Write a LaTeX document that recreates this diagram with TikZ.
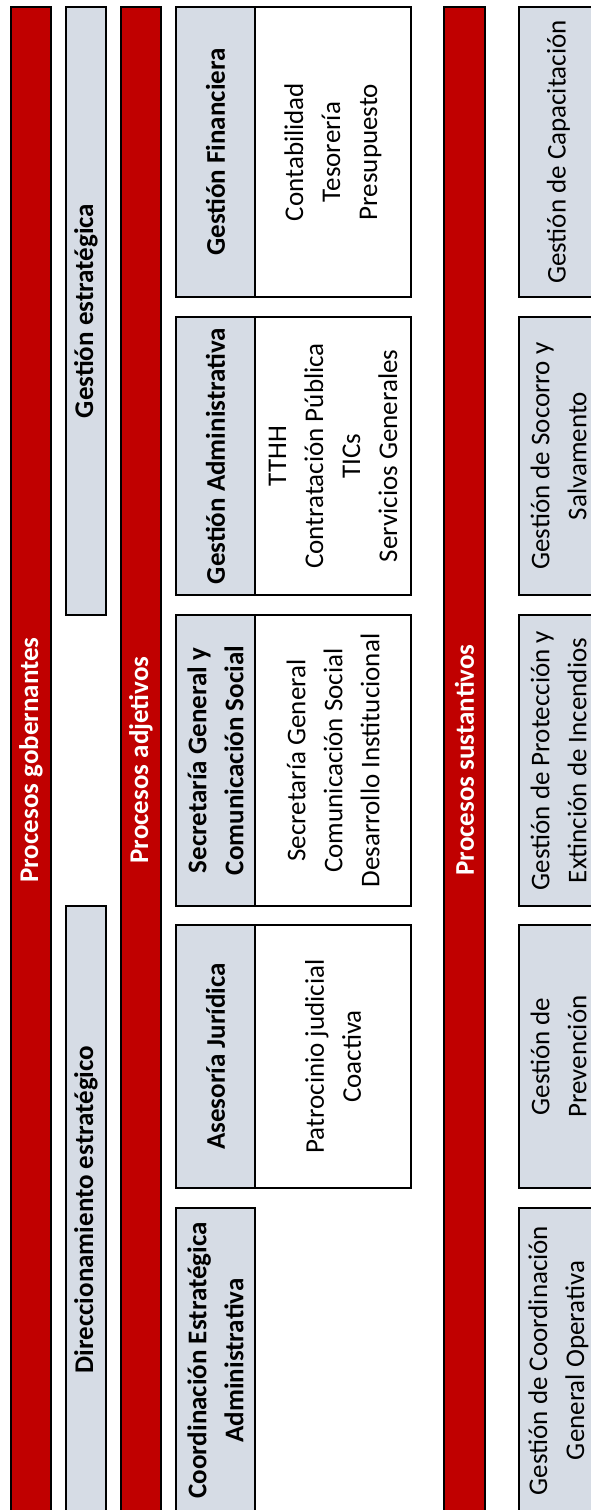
\documentclass[tikz,border=0pt]{standalone}
\usepackage{fontspec}
\setmainfont{Carlito}
\definecolor{procred}{HTML}{C00000}
\definecolor{procgray}{HTML}{D6DCE5}
\tikzset{
  box/.style={draw=black, line width=1.7pt, rotate=90, inner sep=0pt, align=center,
    font=\fontsize{27}{37}\selectfont},
  redbar/.style={box, fill=procred, text=white, font=\bfseries\fontsize{27}{37}\selectfont},
  graybar/.style={box, fill=procgray, font=\bfseries\fontsize{27}{37}\selectfont},
  headbox/.style={box, fill=procgray, font=\bfseries\fontsize{27}{37}\selectfont},
  contbox/.style={box, fill=white},
  sustbox/.style={box, fill=procgray}
}
\begin{document}
\begin{tikzpicture}[x=1pt,y=-1pt]
\useasboundingbox (0,0) rectangle (591,1510);
\fill[white] (0,0) rectangle (591,1510);
\clip (0,0) rectangle (591,1510);
% column 1
\node[redbar, minimum width=1506, minimum height=40] (gob) at (31,760) {Procesos gobernantes};
% column 2
\node[graybar, minimum width=608, minimum height=40] (gest) at (86,311) {Gestión estratégica};
\node[graybar, minimum width=607, minimum height=40] (dir) at (86,1209.5) {Direccionamiento estratégico};
% column 3
\node[redbar, minimum width=1506, minimum height=40] (adj) at (141,760) {Procesos adjetivos};
% column 4: headers
\node[headbox, minimum width=290, minimum height=79] (h1) at (215.5,152) {Gestión Financiera};
\node[headbox, minimum width=278, minimum height=79] (h2) at (215.5,456) {Gestión Administrativa};
\node[headbox, minimum width=291, minimum height=79] (h3) at (215.5,760.5) {Secretaría General y\\Comunicación Social};
\node[headbox, minimum width=263, minimum height=79] (h4) at (215.5,1056.5) {Asesoría Jurídica};
\node[headbox, minimum width=305, minimum height=79] (h5) at (215.5,1360.5) {Coordinación Estratégica\\Administrativa};
% column 5: contents
\node[contbox, minimum width=290, minimum height=156] (c1) at (333,152) {Contabilidad\\Tesorería\\Presupuesto};
\node[contbox, minimum width=278, minimum height=156] (c2) at (333,456) {TTHH\\Contratación Pública\\TICs\\Servicios Generales};
\node[contbox, minimum width=291, minimum height=156] (c3) at (333,760.5) {Secretaría General\\Comunicación Social\\Desarrollo Institucional};
\node[contbox, minimum width=263, minimum height=156] (c4) at (333,1056.5) {Patrocinio judicial\\Coactiva};
% column 6
\node[redbar, minimum width=1506, minimum height=41] (sus) at (464.5,760) {Procesos sustantivos};
% column 7
\node[sustbox, minimum width=290, minimum height=79] (s1) at (558.5,152) {Gestión de Capacitación};
\node[sustbox, minimum width=278, minimum height=79] (s2) at (558.5,456) {Gestión de Socorro y\\Salvamento};
\node[sustbox, minimum width=291, minimum height=79] (s3) at (558.5,760.5) {Gestión de Protección y\\Extinción de Incendios};
\node[sustbox, minimum width=263, minimum height=79] (s4) at (558.5,1056.5) {Gestión de\\Prevención};
\node[sustbox, minimum width=305, minimum height=79] (s5) at (558.5,1360.5) {Gestión de Coordinación\\General Operativa};
\end{tikzpicture}
\end{document}
